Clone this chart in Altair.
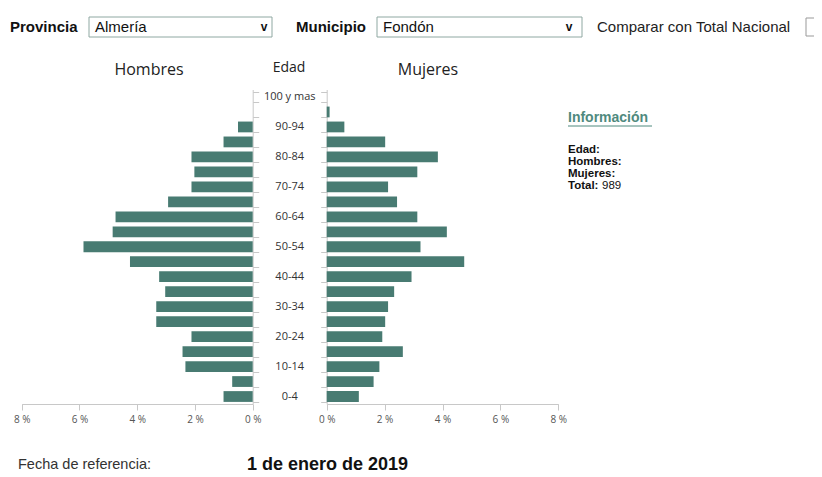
import altair as alt
import pandas as pd

# ---------------- data ----------------
ages = ['0-4', '5-9', '10-14', '15-19', '20-24', '25-29', '30-34', '35-39',
        '40-44', '45-49', '50-54', '55-59', '60-64', '65-69', '70-74',
        '75-79', '80-84', '85-89', '90-94', '95-99', '100 y mas']
hombres = [1.01, 0.71, 2.33, 2.43, 2.12, 3.34, 3.34, 3.03, 3.24, 4.25, 5.86,
           4.85, 4.75, 2.93, 2.12, 2.02, 2.12, 1.01, 0.51, 0.0, 0.0]
mujeres = [1.11, 1.62, 1.82, 2.63, 1.92, 2.02, 2.12, 2.33, 2.93, 4.75, 3.24,
           4.15, 3.13, 2.43, 2.12, 3.13, 3.84, 2.02, 0.61, 0.10, 0.0]
tick_values = [0, 2, 4, 6, 8]
total = 989

df = pd.DataFrame({'edad': ages, 'hombres': hombres, 'mujeres': mujeres})
df['label'] = [a if i % 2 == 0 else '' for i, a in enumerate(ages)]
age_order = ages[::-1]

# ---------------- layout ----------------
W, H = 806, 466
BAR = '#487b72'
AX = '#c8c8c8'
Y_RANGE = [81.5, 396]
L_RANGE = [244.7, 13.7]
R_RANGE = [318.7, 550.3]


def yscale():
    return alt.Scale(domain=age_order, range=Y_RANGE, paddingInner=0.28, paddingOuter=0.14)


def xaxis():
    return alt.Axis(values=tick_values, labelExpr="datum.value + ' %'", orient='bottom',
                    offset=-(H - Y_RANGE[1]), grid=False, title=None, domainColor=AX,
                    tickColor=AX, tickSize=6, labelFlush=False, labelFont='Open Sans',
                    labelFontSize=10, labelColor='#555', labelPadding=4)


base = alt.Chart(df)

left = base.mark_bar(color=BAR).encode(
    x=alt.X('hombres:Q', scale=alt.Scale(domain=[0, 8], range=L_RANGE), axis=xaxis()),
    y=alt.Y('edad:N', sort=age_order, scale=yscale(),
            axis=alt.Axis(orient='right', offset=L_RANGE[0] - W, labels=False, title=None,
                          tickBand='extent', domainColor=AX, tickColor=AX, tickSize=6,
                          grid=False)),
)

right = base.mark_bar(color=BAR).encode(
    x=alt.X('mujeres:Q', scale=alt.Scale(domain=[0, 8], range=R_RANGE), axis=xaxis()),
    y=alt.Y('edad:N', sort=age_order, scale=yscale(),
            axis=alt.Axis(orient='left', offset=-R_RANGE[0], labels=False, title=None,
                          tickBand='extent', domainColor=AX, tickColor=AX, tickSize=6,
                          grid=False)),
)

labels = base.mark_text(font='Open Sans', fontSize=11, color='#333', align='center',
                        baseline='middle').encode(
    x=alt.value((L_RANGE[0] + R_RANGE[0]) / 2),
    y=alt.Y('edad:N', sort=age_order, scale=yscale(), axis=None),
    text='label:N',
)


def txt(s, x, y, size=13, weight='normal', color='#222', font='Liberation Sans', align='left'):
    return alt.Chart(pd.DataFrame({'t': [s]})).mark_text(
        font=font, fontSize=size, fontWeight=weight, color=color, align=align,
        baseline='middle').encode(x=alt.value(x), y=alt.value(y), text='t:N')


def box(x1, x2, y1, y2, stroke='#8fa8a2'):
    return alt.Chart(pd.DataFrame({'a': [0]})).mark_rect(
        fill='white', stroke=stroke, strokeWidth=1).encode(
        x=alt.value(x1), x2=alt.value(x2), y=alt.value(y1), y2=alt.value(y2))


deco = [
    # top controls
    txt('Provincia', 2, 19, 15, 'bold', '#111'),
    box(81, 264, 9, 29),
    txt('Almería', 87, 19, 15, 'normal', '#111'),
    txt('v', 256, 19, 12, 'bold', '#111', align='center'),
    txt('Municipio', 288, 19, 15, 'bold', '#111'),
    box(369, 574, 9, 29),
    txt('Fondón', 375, 19, 15, 'normal', '#111'),
    txt('v', 561, 19, 12, 'bold', '#111', align='center'),
    txt('Comparar con Total Nacional', 589, 19, 15, 'normal', '#222'),
    box(798, 812, 10, 28, stroke='#999'),
    # headers
    txt('Hombres', 141, 62, 16, 'normal', '#222', 'Open Sans', 'center'),
    txt('Edad', 281, 60, 14, 'normal', '#222', 'Open Sans', 'center'),
    txt('Mujeres', 420, 62, 16, 'normal', '#222', 'Open Sans', 'center'),
    # info panel
    txt('Información', 560, 110, 14, 'bold', '#4f8a7e'),
    alt.Chart(pd.DataFrame({'a': [0]})).mark_rule(color='#4f8a7e', strokeWidth=1).encode(
        x=alt.value(560), x2=alt.value(644), y=alt.value(118)),
    txt('Edad:', 560, 142, 11.5, 'bold', '#111'),
    txt('Hombres:', 560, 154, 11.5, 'bold', '#111'),
    txt('Mujeres:', 560, 166, 11.5, 'bold', '#111'),
    txt('Total:', 560, 178, 11.5, 'bold', '#111'),
    txt(str(total), 594, 178, 11.5, 'normal', '#111'),
    # footer
    txt('Fecha de referencia:', 10, 457, 14.5, 'normal', '#333'),
    txt('1 de enero de 2019', 239, 457, 18, 'bold', '#111'),
]

chart = alt.layer(left, right, labels, *deco).resolve_scale(
    x='independent', y='independent'
).resolve_axis(x='independent', y='independent').properties(
    width=W, height=H, autosize=alt.AutoSizeParams(type='none'), padding=0,
    background='white'
).configure_view(stroke=None)

chart.save('out.html', embed_options={'renderer': 'svg', 'actions': False})
